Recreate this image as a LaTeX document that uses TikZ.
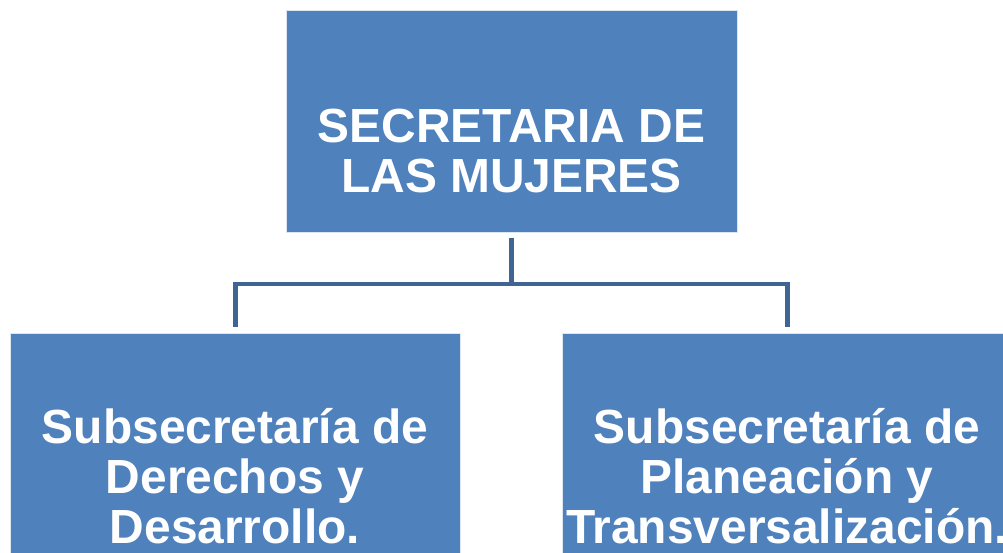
\documentclass[tikz,border=0pt]{standalone}
\usepackage{fontspec}
\setmainfont{Liberation Sans}
\definecolor{boxblue}{HTML}{4F81BD}
\definecolor{linkblue}{HTML}{3E6595}
\begin{document}
\begin{tikzpicture}[x=1pt,y=-1pt,
  orgbox/.style={rectangle, fill=boxblue, draw=white!80!boxblue, line width=0.8pt, inner sep=0pt, anchor=north west},
  orgtext/.style={text=white, font=\fontsize{47.9}{50}\selectfont\bfseries, align=center, inner sep=0pt},
  conn/.style={draw=linkblue, line width=4.5pt, line join=miter}]
\useasboundingbox (0,0) rectangle (1003,552);
\clip (0,0) rectangle (1003,552);
\node[orgbox, minimum width=451pt, minimum height=222pt] (top) at (286,10) {};
\node[orgbox, minimum width=450pt, minimum height=240pt] (left) at (10,333) {};
\node[orgbox, minimum width=450pt, minimum height=240pt] (right) at (562,333) {};
\node[orgtext] (toptxt) at (511.5,151.3) {SECRETARIA DE\\LAS MUJERES};
\node[orgtext] (lefttxt) at (235,476) {Subsecretaría de\\Derechos y\\Desarrollo.};
\node[orgtext] (righttxt) at (787,476) {Subsecretaría de\\Planeación y\\Transversalización.};
\draw[conn, shorten <=5pt, shorten >=6pt] ([xshift=-0.5pt]top.south) -- ++(0,51) -| (left.north);
\draw[conn, shorten <=5pt, shorten >=6pt] ([xshift=-0.5pt]top.south) -- ++(0,51) -| (right.north);
\end{tikzpicture}
\end{document}
